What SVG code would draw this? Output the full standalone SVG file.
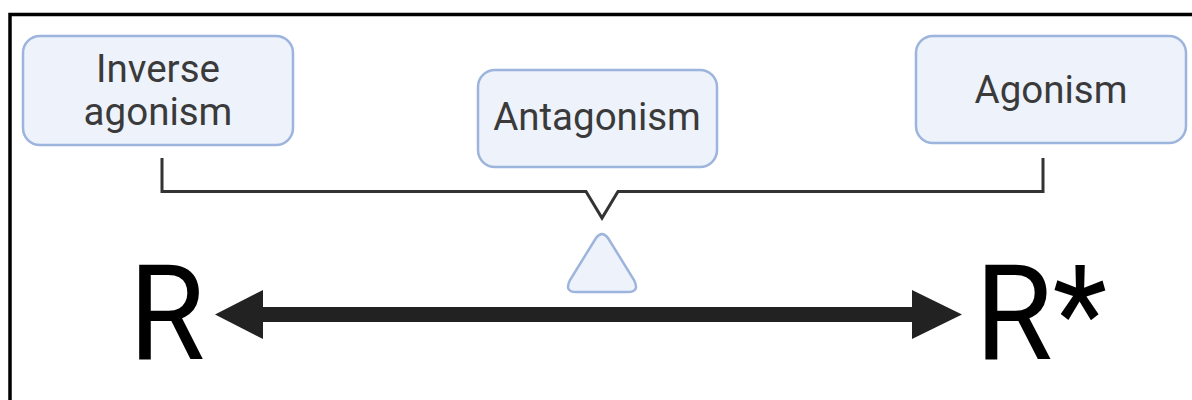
<svg xmlns="http://www.w3.org/2000/svg" width="1192" height="400" viewBox="0 0 1192 400">
<defs>
<style>
.box{fill:#edf2fb;stroke:#9db4dd;stroke-width:2.5}
.lbl{font-family:Roboto,"Liberation Sans",sans-serif;font-size:38.5px;fill:#3a3a3a;text-anchor:middle}
.big{font-family:Roboto,"Liberation Sans",sans-serif;font-size:134px;fill:#000}
.bracket{fill:none;stroke:#333;stroke-width:3}
</style>
</defs>
<rect width="1192" height="400" fill="#fff"/>
<path d="M10,400 V14.5 H1192" fill="none" stroke="#000" stroke-width="3.5"/>
<g id="inverse">
<rect class="box" x="23" y="36" width="270" height="109" rx="17"/>
<text class="lbl" x="158" y="82">Inverse</text>
<text class="lbl" x="158" y="125">agonism</text>
</g>
<g id="antagonism">
<rect class="box" x="478" y="70" width="239" height="97" rx="17"/>
<text class="lbl" x="597" y="130">Antagonism</text>
</g>
<g id="agonism">
<rect class="box" x="916" y="36" width="270" height="107" rx="17"/>
<text class="lbl" x="1051" y="103">Agonism</text>
</g>
<g id="fulcrum">
<path class="box" d="M596,238 Q602,230 608,238 L634,280 Q640,292 628,292 L576,292 Q564,292 570,280 Z"/>
</g>
<g id="R"><text class="big" x="129" y="360" textLength="76" lengthAdjust="spacingAndGlyphs">R</text></g>
<g id="Rstar"><text class="big" x="975" y="360" textLength="132" lengthAdjust="spacingAndGlyphs">R*</text></g>
<g id="connectors">
<path class="bracket" d="M162,158 V191.5 H586 L602,218 L618,191.5 H1043 V158"/>
<path d="M263,307 H912 V290 L962,314.5 L912,339 V322 H263 V339 L215,314.5 L263,290 Z" fill="#222"/>
</g>
</svg>
